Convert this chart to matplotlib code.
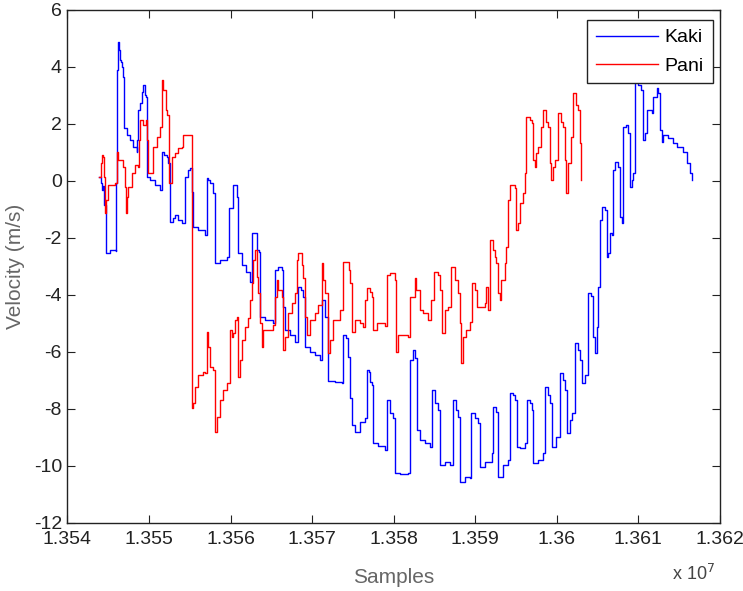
import matplotlib
matplotlib.use("Agg")
import matplotlib.pyplot as plt
from matplotlib.ticker import FuncFormatter

# x in thousands of samples, y in m/s
kaki_x = [13543.86, 13544.11, 13544.23, 13544.35, 13544.47, 13544.68, 13544.72, 13545.21, 13545.91, 13545.92,
          13546.00, 13546.10, 13546.19, 13546.31, 13546.43, 13546.56, 13546.68, 13546.80, 13546.86, 13546.96,
          13547.29, 13547.66, 13548.03, 13548.48, 13548.52, 13548.64, 13548.88, 13549.13, 13549.29, 13549.50,
          13549.68, 13549.78, 13550.11, 13550.72, 13551.34, 13551.54, 13551.83, 13552.16, 13552.35, 13552.56,
          13552.93, 13553.17, 13553.54, 13554.00, 13554.40, 13554.77, 13555.01, 13555.22, 13555.42, 13555.99,
          13556.85, 13557.06, 13557.22, 13557.46, 13557.87, 13558.08, 13558.69, 13559.51, 13559.79, 13560.28,
          13560.74, 13560.86, 13561.39, 13561.88, 13562.37, 13562.57, 13562.98, 13563.19, 13563.47, 13563.59,
          13564.20, 13565.18, 13565.43, 13565.80, 13566.29, 13566.41, 13566.65, 13567.27, 13567.88, 13568.25,
          13568.62, 13568.86, 13569.11, 13569.72, 13570.33, 13570.94, 13571.15, 13571.56, 13571.92, 13571.99,
          13572.78, 13573.64, 13573.76, 13574.13, 13574.38, 13574.62, 13574.87, 13575.23, 13575.85, 13576.46,
          13576.70, 13576.95, 13577.07, 13577.32, 13577.44, 13578.05, 13578.91, 13579.15, 13579.52, 13579.89,
          13580.14, 13580.75, 13581.73, 13581.97, 13582.34, 13582.59, 13582.83, 13583.20, 13583.81, 13584.42,
          13584.67, 13585.04, 13585.41, 13585.65, 13586.26, 13586.88, 13587.24, 13587.61, 13587.86, 13588.10,
          13588.71, 13589.33, 13589.45, 13589.94, 13590.31, 13590.55, 13591.16, 13592.02, 13592.15, 13592.51,
          13592.76, 13592.82, 13593.37, 13593.98, 13594.23, 13594.60, 13594.84, 13595.09, 13595.45, 13596.07,
          13596.31, 13596.68, 13596.92, 13597.05, 13597.66, 13598.27, 13598.52, 13598.89, 13599.13, 13599.38,
          13599.87, 13600.36, 13600.42, 13600.72, 13600.97, 13601.21, 13601.58, 13601.83, 13602.19, 13602.56,
          13602.81, 13603.05, 13603.42, 13603.79, 13603.85, 13604.15, 13604.40, 13604.65, 13604.89, 13605.01,
          13605.26, 13605.50, 13605.87, 13606.12, 13606.24, 13606.48, 13606.73, 13606.85, 13607.10, 13607.46,
          13607.71, 13607.95, 13608.08, 13608.14, 13608.44, 13608.69, 13608.94, 13609.18, 13609.30, 13609.55,
          13609.92, 13610.28, 13610.53, 13610.77, 13611.02, 13611.39, 13611.63, 13611.75, 13612.24, 13612.37,
          13612.61, 13612.86, 13612.98, 13613.59, 13614.20, 13614.69, 13615.43, 13615.92, 13616.29, 13616.53]
kaki_v = [0.14, -0.07, -0.32, -0.18, -0.84, -2.42, -2.53, -2.42, -2.46, -1.19,
          -0.07, 3.89, 4.88, 4.60, 4.25, 4.18, 4.00, 3.72, 3.65, 1.86,
          1.61, 1.44, 1.19, 1.02, 1.44, 2.49, 2.74, 3.12, 3.37, 3.02,
          2.95, 0.14, 0.04, -0.14, -0.32, 1.02, 0.91, 0.84, 0.63, -1.44,
          -1.30, -1.19, -1.37, -1.47, 0.14, 0.39, 0.46, -0.39, -1.61, -1.72,
          -1.89, 0.11, 0.04, -0.07, -0.42, -2.88, -2.77, -2.67, -0.95, -0.14,
          -0.56, -2.53, -2.95, -3.19, -3.54, -1.82, -1.82, -2.42, -2.49, -4.77,
          -4.88, -4.98, -3.12, -3.02, -3.12, -4.42, -5.23, -5.40, -5.65, -3.72,
          -3.82, -4.07, -5.82, -6.00, -6.11, -6.28, -4.18, -4.77, -4.98, -7.02,
          -7.05, -7.09, -5.40, -5.51, -6.18, -7.61, -8.56, -8.81, -8.46, -8.32,
          -6.63, -6.70, -7.05, -7.16, -9.19, -9.30, -9.44, -7.68, -8.14, -8.32,
          -10.25, -10.28, -10.25, -6.28, -5.93, -6.21, -8.74, -9.09, -9.19, -9.33,
          -7.33, -7.79, -8.04, -9.96, -9.86, -9.96, -7.68, -8.04, -8.28, -10.56,
          -10.39, -10.42, -8.14, -8.32, -8.49, -10.04, -9.86, -9.54, -7.93, -8.11,
          -8.28, -10.39, -9.96, -9.79, -7.44, -7.51, -7.68, -9.33, -9.37, -9.19,
          -7.68, -7.79, -8.04, -9.89, -9.79, -9.54, -7.23, -7.51, -7.79, -9.33,
          -8.98, -8.74, -6.74, -6.98, -7.33, -8.84, -8.39, -8.14, -5.68, -5.93,
          -6.28, -7.09, -6.81, -6.53, -3.93, -4.04, -5.47, -6.04, -5.12, -3.72,
          -1.37, -0.91, -1.02, -2.67, -2.53, -1.82, -1.89, 0.39, 0.67, 0.49,
          -1.26, -1.47, -0.67, 1.89, 1.96, 1.68, -0.21, 0.04, 0.28, 3.54,
          3.37, 3.19, 1.44, 1.68, 2.49, 2.49, 2.39, 2.95, 3.26, 3.09,
          1.79, 1.37, 1.61, 1.51, 1.33, 1.19, 1.02, 0.63, 0.28, 0.04]

pani_x = [13543.86, 13544.07, 13544.23, 13544.35, 13544.47, 13544.60, 13544.72, 13544.96, 13545.82, 13546.07,
          13546.10, 13546.19, 13546.80, 13547.05, 13547.13, 13547.25, 13547.41, 13547.87, 13548.27, 13548.64,
          13548.76, 13548.88, 13549.25, 13549.62, 13549.74, 13549.87, 13550.11, 13550.48, 13550.93, 13551.34,
          13551.54, 13551.70, 13552.07, 13552.23, 13552.44, 13552.48, 13552.77, 13553.17, 13553.54, 13554.03,
          13554.19, 13554.40, 13555.26, 13555.32, 13555.42, 13555.63, 13555.99, 13556.61, 13556.85, 13557.06,
          13557.22, 13557.46, 13557.83, 13558.08, 13558.28, 13558.69, 13559.06, 13559.51, 13559.91, 13560.12,
          13560.32, 13560.53, 13560.74, 13560.93, 13561.14, 13561.35, 13561.75, 13562.16, 13562.37, 13562.57,
          13562.77, 13562.98, 13563.19, 13563.38, 13563.59, 13563.80, 13564.00, 13564.45, 13565.18, 13565.43,
          13565.64, 13565.83, 13566.25, 13566.45, 13566.65, 13567.06, 13567.48, 13567.88, 13568.09, 13568.28,
          13568.70, 13568.90, 13569.11, 13569.31, 13569.72, 13570.33, 13570.74, 13571.15, 13571.35, 13571.56,
          13571.96, 13572.17, 13572.57, 13573.40, 13573.76, 13574.13, 13574.50, 13574.62, 13574.83, 13575.23,
          13575.85, 13576.25, 13576.46, 13576.70, 13577.07, 13577.32, 13577.48, 13577.93, 13578.91, 13579.22,
          13579.52, 13580.14, 13580.34, 13580.50, 13581.73, 13581.97, 13582.59, 13582.79, 13583.20, 13583.57,
          13584.18, 13584.63, 13584.92, 13585.41, 13585.65, 13585.86, 13586.26, 13586.67, 13587.08, 13587.49,
          13587.89, 13588.10, 13588.31, 13588.51, 13588.92, 13589.33, 13589.54, 13589.94, 13590.18, 13591.16,
          13591.37, 13591.57, 13591.78, 13592.15, 13592.39, 13592.60, 13592.79, 13593.00, 13593.21, 13593.62,
          13593.82, 13594.02, 13594.23, 13594.84, 13595.05, 13595.25, 13595.45, 13595.86, 13596.07, 13596.28,
          13596.68, 13596.92, 13597.08, 13597.29, 13597.50, 13597.70, 13598.11, 13598.31, 13598.64, 13598.89,
          13599.13, 13599.34, 13599.53, 13599.74, 13600.15, 13600.48, 13600.72, 13600.97, 13601.09, 13601.37,
          13601.79, 13601.99, 13602.32, 13602.56, 13602.81, 13603.02]
pani_v = [0.14, 0.63, 0.91, 0.84, 0.14, -1.12, -0.67, -0.14, -0.07, 0.14,
          1.02, 0.74, 0.49, -0.21, -1.12, -0.56, -0.21, 0.28, 0.56, 0.49,
          1.44, 2.14, 1.96, 2.14, 1.44, 0.28, 0.28, 1.19, 1.54, 1.89,
          3.54, 3.19, 2.49, 2.32, 1.19, -0.07, 0.84, 0.98, 1.16, 1.19,
          1.61, 1.61, 1.54, -7.96, -7.79, -7.23, -6.81, -6.70, -6.74, -5.30,
          -5.82, -6.53, -6.63, -8.81, -8.28, -7.68, -7.33, -7.09, -5.23, -5.47,
          -5.33, -4.88, -4.77, -6.88, -6.28, -5.58, -5.12, -4.81, -4.18, -3.58,
          -2.77, -2.42, -3.37, -3.93, -4.98, -5.82, -5.23, -5.23, -5.05, -4.07,
          -3.47, -3.82, -4.07, -5.93, -5.47, -4.63, -4.28, -3.93, -2.77, -2.53,
          -2.95, -3.40, -4.77, -5.40, -4.88, -4.63, -4.35, -2.88, -3.47, -3.93,
          -6.04, -5.58, -4.88, -4.53, -2.84, -2.84, -3.12, -3.58, -5.30, -4.88,
          -4.98, -5.12, -4.18, -3.75, -3.89, -4.07, -5.23, -4.98, -5.09, -3.30,
          -3.23, -3.47, -6.00, -5.40, -5.47, -4.07, -3.40, -3.82, -4.53, -4.63,
          -4.88, -4.18, -3.19, -3.30, -3.82, -5.33, -4.53, -4.42, -3.02, -3.47,
          -3.93, -4.98, -6.39, -5.47, -5.23, -4.95, -3.58, -3.82, -4.42, -4.28,
          -3.72, -4.53, -2.07, -2.42, -2.67, -2.88, -3.93, -4.18, -3.47, -2.88,
          -2.32, -0.67, -0.14, -0.25, -1.72, -1.47, -0.77, -0.42, 0.28, 2.25,
          2.14, 2.04, 0.74, 0.49, 0.98, 1.19, 1.89, 2.49, 2.07, 1.89,
          0.63, 0.04, 0.49, 0.74, 2.39, 2.07, 1.89, 0.74, -0.42, 0.63,
          1.54, 3.09, 2.67, 2.49, 1.33, 0.04]

x_ticks = [1.354, 1.355, 1.356, 1.357, 1.358, 1.359, 1.360, 1.361, 1.362]
y_ticks = [6, 4, 2, 0, -2, -4, -6, -8, -10, -12]

plt.rcParams['font.family'] = ['Liberation Sans', 'DejaVu Sans']

fig = plt.figure(figsize=(7.43, 5.91), dpi=100)
ax = fig.add_axes([0.0908, 0.1151, 0.8782, 0.8680])

ax.plot([x * 1000 for x in kaki_x], kaki_v, color='#0000ff', lw=1.0,
        drawstyle='steps-post', label='Kaki')
ax.plot([x * 1000 for x in pani_x], pani_v, color='#ff0000', lw=1.0,
        drawstyle='steps-post', label='Pani')

ax.set_xlim(x_ticks[0] * 1e7, x_ticks[-1] * 1e7)
ax.set_ylim(min(y_ticks), max(y_ticks))
ax.set_xticks([t * 1e7 for t in x_ticks])
ax.xaxis.set_major_formatter(FuncFormatter(lambda v, p: '%g' % round(v / 1e7, 4)))
ax.set_yticks(y_ticks)
ax.yaxis.set_major_formatter(FuncFormatter(lambda v, p: '%g' % v))

ax.tick_params(direction='in', top=True, right=True, length=6, width=0.8,
               labelsize=14, colors='#222222')
ax.tick_params(axis='x', pad=6)
ax.tick_params(axis='y', pad=4)
for s in ax.spines.values():
    s.set_linewidth(1.0)
    s.set_color('#222222')

ax.set_ylabel('Velocity (m/s)', fontsize=15, color='#666666', labelpad=6)
ax.set_xlabel('Samples', fontsize=15, color='#666666', labelpad=14)
fig.text(0.905, 0.018, r'x 10$^7$', fontsize=13, color='#444444')

leg = ax.legend(loc='upper right', bbox_to_anchor=(0.989, 0.9805), borderaxespad=0,
                fontsize=14, frameon=True, fancybox=False,
                edgecolor='#222222', framealpha=1,
                handlelength=3.2, handletextpad=0.35, borderpad=0.45, labelspacing=0.55)
leg.get_frame().set_linewidth(1.0)

fig.savefig('out.png', dpi=100)
